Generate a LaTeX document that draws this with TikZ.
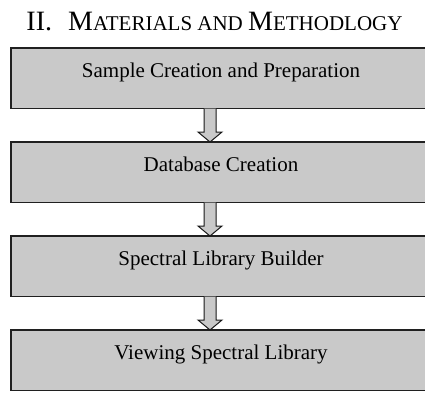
\documentclass[tikz,border=0pt]{standalone}
\usepackage{fontspec}
\setmainfont{Liberation Serif}
\usetikzlibrary{positioning}

\begin{document}
\begin{tikzpicture}[
    x=1pt, y=1pt,
    stage/.style={
	draw=gray!25!black,
	line width=1.6pt,
	fill=black!21,
	minimum width=420pt,
	minimum height=60.5pt,
	inner sep=0pt,
	outer sep=0pt,
	text height=14pt,
	text depth=15pt,
	font=\fontsize{21}{21}\selectfont
    },
    flow/.style={
	draw=gray!20!black,
	line width=1pt,
	fill=black!21,
	line join=miter
    }
]
	\useasboundingbox (0,0) rectangle (425,-392);

	% Heading
	\node[anchor=base, inner sep=0pt] (title) at (214.5,-30)
	    {\fontsize{28}{28}\selectfont II.\hspace{16pt}M\fontsize{21}{21}\selectfont ATERIALS AND \fontsize{28}{28}\selectfont M\fontsize{21}{21}\selectfont ETHODLOGY};

	% Stages
	\node[stage, anchor=north west] (prep) at (11,-48) {Sample Creation and Preparation};
	\node[stage, below=33.5pt of prep] (db) {Database Creation};
	\node[stage, below=33.5pt of db] (builder) {Spectral Library Builder};
	\node[stage, below=33.5pt of builder] (view) {Viewing Spectral Library};

	% prep -> db
	\draw[flow] ([xshift=-17pt]prep.south) -- ([xshift=-17pt,yshift=10pt]db.north)
	    -- ([xshift=-23pt,yshift=10pt]db.north) -- ([xshift=-11pt]db.north)
	    -- ([xshift=1pt,yshift=10pt]db.north) -- ([xshift=-5pt,yshift=10pt]db.north)
	    -- ([xshift=-5pt]prep.south);

	% db -> builder
	\draw[flow] ([xshift=-17pt]db.south) -- ([xshift=-17pt,yshift=10pt]builder.north)
	    -- ([xshift=-23pt,yshift=10pt]builder.north) -- ([xshift=-11pt]builder.north)
	    -- ([xshift=1pt,yshift=10pt]builder.north) -- ([xshift=-5pt,yshift=10pt]builder.north)
	    -- ([xshift=-5pt]db.south);

	% builder -> view
	\draw[flow] ([xshift=-17pt]builder.south) -- ([xshift=-17pt,yshift=10pt]view.north)
	    -- ([xshift=-23pt,yshift=10pt]view.north) -- ([xshift=-11pt]view.north)
	    -- ([xshift=1pt,yshift=10pt]view.north) -- ([xshift=-5pt,yshift=10pt]view.north)
	    -- ([xshift=-5pt]builder.south);
\end{tikzpicture}
\end{document}
